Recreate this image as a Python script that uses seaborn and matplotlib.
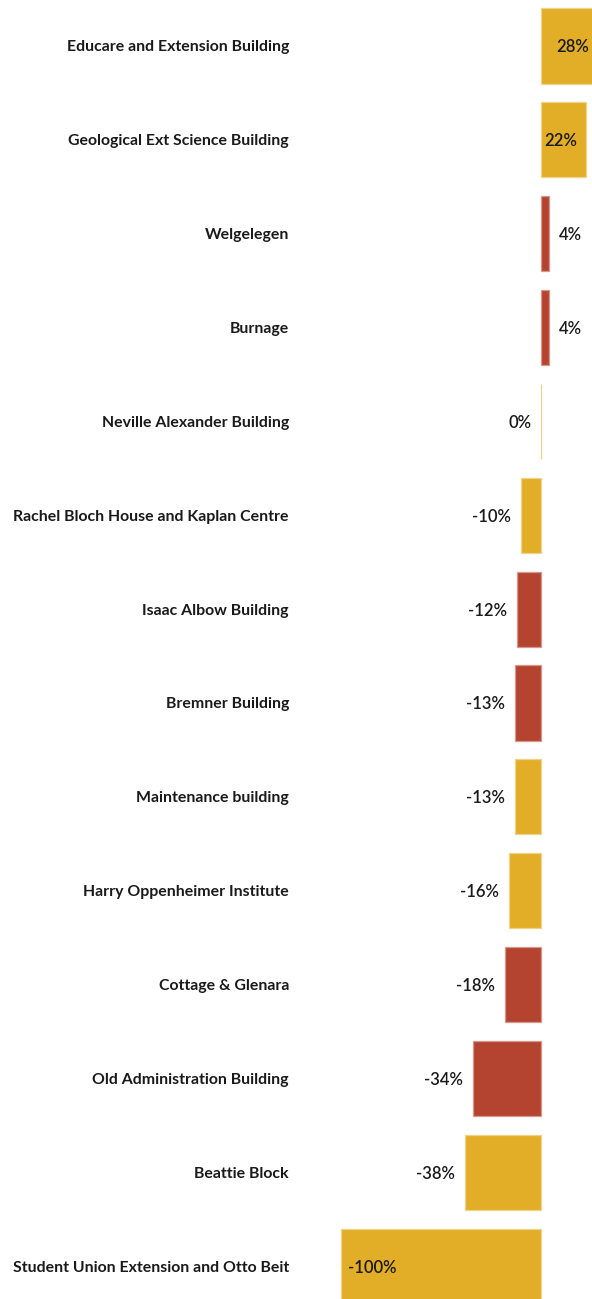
import matplotlib
matplotlib.use("Agg")
import matplotlib.pyplot as plt
import matplotlib.colors as mcolors
import seaborn as sns
import pandas as pd
import numpy as np

buildings = [
    "Educare and Extension Building",
    "Geological Ext Science Building",
    "Welgelegen",
    "Burnage",
    "Neville Alexander Building",
    "Rachel Bloch House and Kaplan Centre",
    "Isaac Albow Building",
    "Bremner Building",
    "Maintenance building",
    "Harry Oppenheimer Institute",
    "Cottage & Glenara",
    "Old Administration Building",
    "Beattie Block",
    "Student Union Extension and Otto Beit",
]
change_pct = [28, 22.4, 4, 4, 0, -10, -12, -13, -13, -16, -18, -34, -38, -100]
group = ["gold", "gold", "red", "red", "gold", "gold", "red", "red",
         "gold", "gold", "red", "red", "gold", "gold"]
palette = {"gold": "#E3AE27", "red": "#B4442F"}

df = pd.DataFrame({"building": buildings, "change": change_pct, "group": group})

sns.set_theme(style="white")
plt.rcParams["font.family"] = ["Lato", "DejaVu Sans"]

fig = plt.figure(figsize=(5.92, 12.99), dpi=100)
ax = fig.add_axes([300 / 592, 0, 292 / 592, 1])

sns.barplot(data=df, x="change", y="building", hue="group", palette=palette,
            orient="h", dodge=False, width=0.8, legend=False, ax=ax,
            linewidth=0.9, saturation=1)

# lighter edge of each bar's own colour (soft anti-aliased look)
for p in ax.patches:
    fc = np.array(mcolors.to_rgb(p.get_facecolor()))
    p.set_edgecolor(tuple(fc + (1 - fc) * 0.45))

ax.set_xlim(-120.5, 25.5)
ax.set_ylim(13.35, -0.49)
ax.set_xlabel("")
ax.set_ylabel("")
ax.set_xticks([])
for s in ax.spines.values():
    s.set_visible(False)
ax.tick_params(axis="y", length=0, pad=8)
for lab in ax.get_yticklabels():
    lab.set_fontsize(11.4)
    lab.set_fontweight("bold")
    lab.set_color("#1a1a1a")

lab_kw = dict(textcoords="offset points", va="center", fontsize=12,
              fontweight="semibold", color="#1a1a1a", annotation_clip=False)
for i, v in enumerate(change_pct):
    txt = f"{round(v):d}%"
    if v > 10:
        ax.annotate(txt, (v, i), xytext=(-6, -1), ha="right", **lab_kw)
    elif v > 0:
        ax.annotate(txt, (v, i), xytext=(7, -1), ha="left", **lab_kw)
    elif v < -60:
        ax.annotate(txt, (v, i), xytext=(5, -1), ha="left", **lab_kw)
    else:
        ax.annotate(txt, (v, i), xytext=(-7, -1), ha="right", **lab_kw)

fig.savefig("out.png", dpi=100)
